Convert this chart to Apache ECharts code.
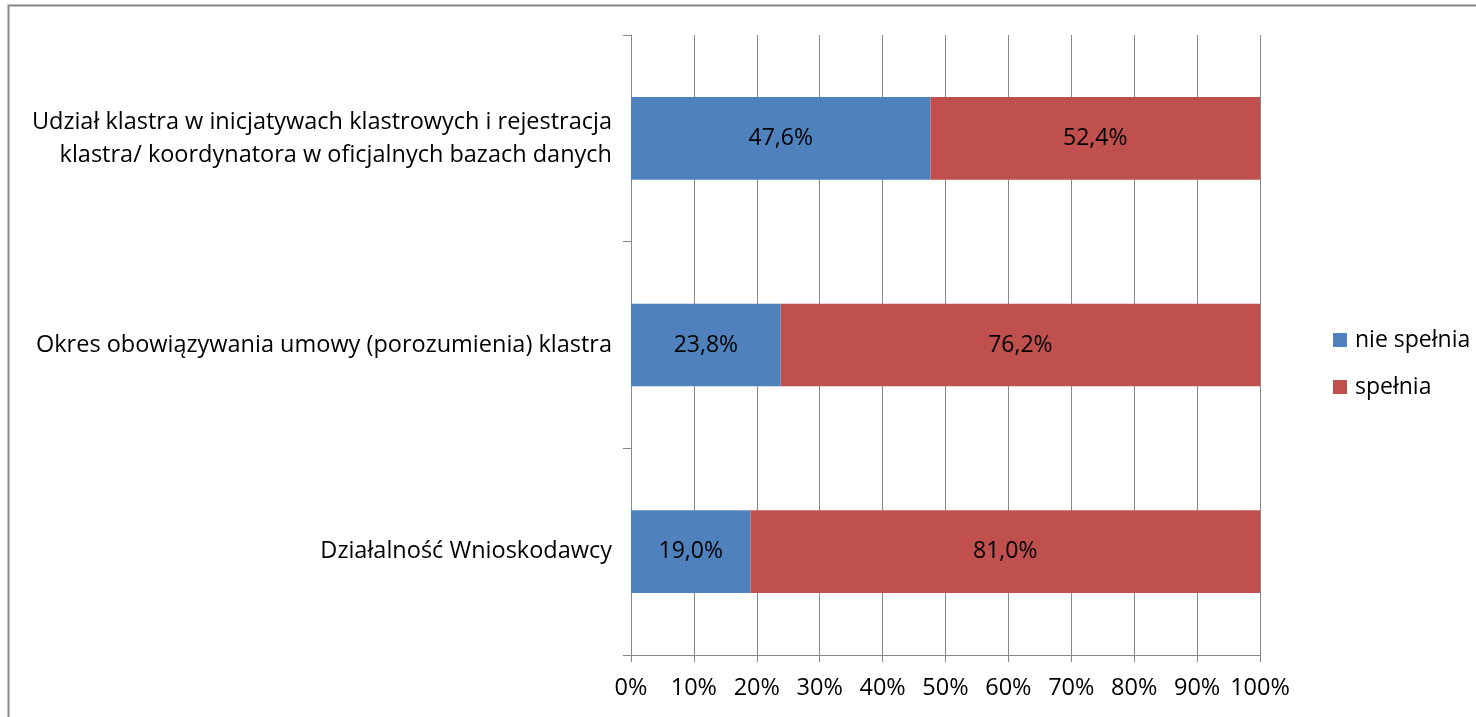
<!DOCTYPE html>
<html>
<head>
<meta charset="utf-8">
<script src="https://cdn.jsdelivr.net/npm/echarts@6/dist/echarts.min.js"></script>
<style>
  html, body { margin: 0; padding: 0; background: #fff; }
  #chart { width: 1476px; height: 717px; }
</style>
</head>
<body>
<div id="chart"></div>
<script>
// Criteria, listed top to bottom
const categories = [
  'Udział klastra w inicjatywach klastrowych i rejestracja\nklastra/ koordynatora w oficjalnych bazach danych',
  'Okres obowiązywania umowy (porozumienia) klastra',
  'Działalność Wnioskodawcy'
];
const seriesNames = ['nie spełnia', 'spełnia'];
const nieSpelnia = [47.6, 23.8, 19.0];
const spelnia = [52.4, 76.2, 81.0];
const xTicks = [0, 10, 20, 30, 40, 50, 60, 70, 80, 90, 100];

const FONT = 'Open Sans';
const GRID_COLOR = '#888888';

const pct = v => v.toFixed(1).replace('.', ',') + '%';

const chart = echarts.init(document.getElementById('chart'));
chart.setOption({
  animation: false,
  textStyle: { fontFamily: FONT },
  graphic: [{
    type: 'rect',
    shape: { x: 8.5, y: 5.5, width: 1600, height: 800 },
    style: { fill: 'none', stroke: '#878787', lineWidth: 2 },
    silent: true
  }],
  legend: {
    orient: 'vertical',
    left: 1333,
    top: 328,
    padding: 0,
    itemWidth: 14,
    itemHeight: 14,
    itemGap: 23,
    icon: 'rect',
    textStyle: { fontFamily: FONT, fontSize: 23, lineHeight: 24, color: '#000', padding: [0, 0, 0, 3] },
    data: seriesNames
  },
  grid: { left: 631, right: 216, top: 35, bottom: 62, containLabel: false },
  xAxis: {
    type: 'value',
    min: xTicks[0],
    max: xTicks[xTicks.length - 1],
    interval: 10,
    axisLine: { show: true, lineStyle: { color: GRID_COLOR, width: 1 } },
    axisTick: { show: true, length: 7, lineStyle: { color: GRID_COLOR } },
    splitLine: { show: true, lineStyle: { color: GRID_COLOR, width: 1 } },
    axisLabel: {
      color: '#000', fontFamily: FONT, fontSize: 23.5, margin: 21,
      formatter: v => v + '%'
    }
  },
  yAxis: {
    type: 'category',
    inverse: true,
    data: categories,
    axisLine: { show: true, lineStyle: { color: GRID_COLOR, width: 1 } },
    axisTick: { show: true, length: 8, lineStyle: { color: GRID_COLOR } },
    axisLabel: {
      color: '#000', fontFamily: FONT, fontSize: 23.5, margin: 19,
      lineHeight: 33, align: 'right', padding: [3, 0, 0, 0]
    }
  },
  series: [
    {
      name: seriesNames[0], type: 'bar', stack: 'total', barWidth: '40%',
      data: nieSpelnia,
      itemStyle: { color: '#4F81BD' },
      label: { show: true, position: 'inside', color: '#000', fontFamily: FONT, fontSize: 23, formatter: p => pct(p.value) }
    },
    {
      name: seriesNames[1], type: 'bar', stack: 'total', barWidth: '40%',
      data: spelnia,
      itemStyle: { color: '#C0504D' },
      label: { show: true, position: 'inside', color: '#000', fontFamily: FONT, fontSize: 23, formatter: p => pct(p.value) }
    }
  ]
});
</script>
</body>
</html>
